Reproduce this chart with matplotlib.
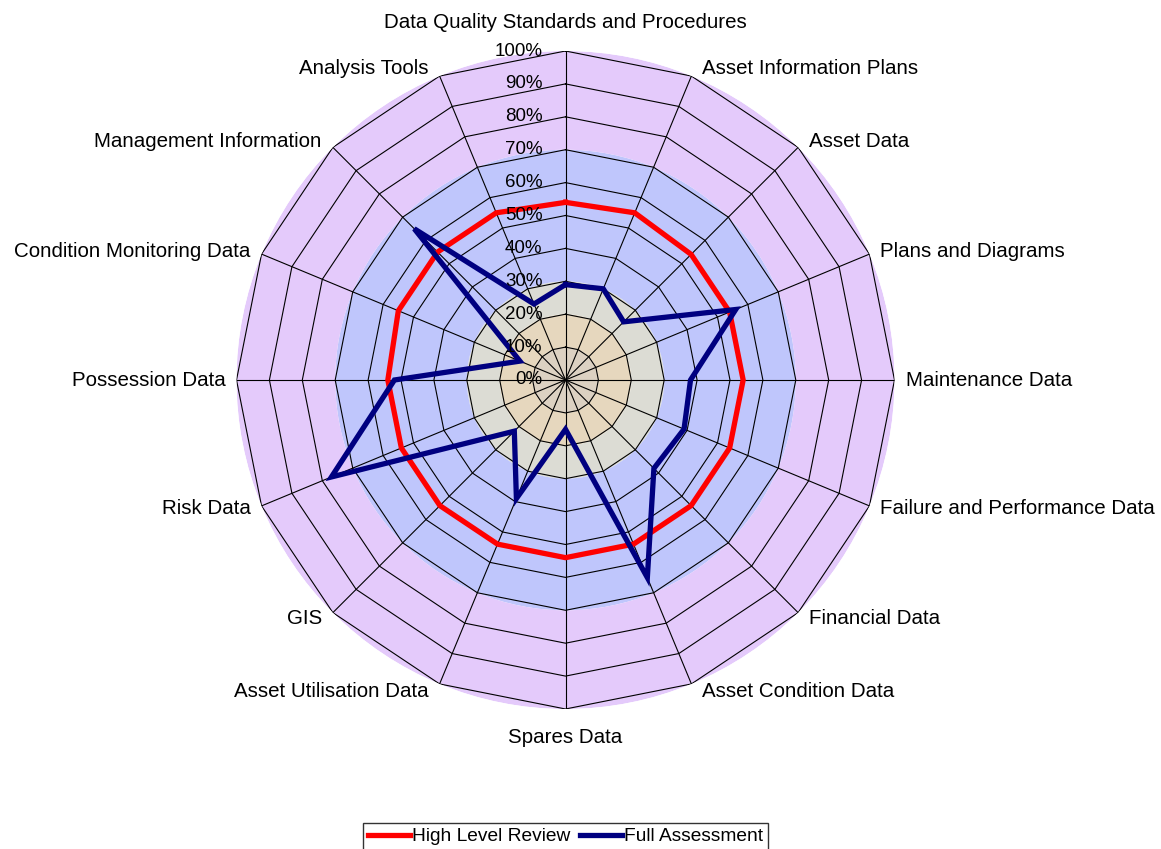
import numpy as np
import matplotlib
matplotlib.use("Agg")
import matplotlib.pyplot as plt
from matplotlib.lines import Line2D

plt.rcParams["font.family"] = ["Liberation Sans", "DejaVu Sans"]

categories = [
    "Data Quality Standards and Procedures",
    "Asset Information Plans",
    "Asset Data",
    "Plans and Diagrams",
    "Maintenance Data",
    "Failure and Performance Data",
    "Financial Data",
    "Asset Condition Data",
    "Spares Data",
    "Asset Utilisation Data",
    "GIS",
    "Risk Data",
    "Possession Data",
    "Condition Monitoring Data",
    "Management Information",
    "Analysis Tools",
]
high_level_review = [54, 55, 54, 54, 54, 54, 54, 54, 54, 54, 54, 54, 54, 55, 55, 55]
full_assessment = [29, 30, 25, 56, 38, 39, 38, 65, 15, 39, 22, 77, 52, 15, 65, 25]
tick_values = [0, 10, 20, 30, 40, 50, 60, 70, 80, 90, 100]

# shaded score bands (inner radius, outer radius, colour)
bands = [
    (0, 10, "#dcd1c2"),
    (10, 20, "#e6d7be"),
    (20, 30, "#dcdcd4"),
    (30, 70, "#bfc6fc"),
    (70, 100, "#e4cafb"),
]

n = len(categories)
theta = np.arange(n) * 2 * np.pi / n
theta_closed = np.append(theta, theta[0])

W, H = 1161, 849
fig = plt.figure(figsize=(W / 100, H / 100), dpi=100)
cx, cy, R = 565.5, 380, 329
ax = fig.add_axes([(cx - R) / W, (H - cy - R) / H, 2 * R / W, 2 * R / H],
                  projection="polar")
ax.set_theta_zero_location("N")
ax.set_theta_direction(-1)
ax.set_ylim(0, 100)
ax.grid(False)
ax.set_xticks([])
ax.set_yticks([])
ax.spines["polar"].set_visible(False)
ax.patch.set_alpha(0)

for r0, r1, col in bands:
    ax.bar(0, r1 - r0, width=2 * np.pi, bottom=r0, color=col,
           edgecolor="none", zorder=0)

# polygon gridlines and spokes
for t in tick_values[1:]:
    ax.plot(theta_closed, [t] * (n + 1), color="black", lw=0.8, zorder=1)
for th in theta:
    ax.plot([th, th], [0, 100], color="black", lw=0.8, zorder=1)

ax.plot(theta_closed, high_level_review + high_level_review[:1],
        color="#ff0000", lw=3.8, zorder=3, solid_joinstyle="miter")
ax.plot(theta_closed, full_assessment + full_assessment[:1],
        color="#000080", lw=3.8, zorder=4, solid_joinstyle="miter")

for t in tick_values:
    ax.annotate(f"{t}%", xy=(0, t), xytext=(-23, 0), textcoords="offset pixels",
                ha="right", va="center", fontsize=13.5, zorder=5)

for th, label in zip(theta, categories):
    s, c = np.sin(th), np.cos(th)
    if abs(s) < 1e-6:
        dx, dy, ha = 0, 29 * np.sign(c), "center"
    else:
        dx = 11 * np.sign(s)
        dy = 8 * c
        ha = "left" if s > 0 else "right"
    ax.annotate(label, xy=(th, 100), xytext=(dx, dy), textcoords="offset pixels",
                ha=ha, va="center", fontsize=14.8, annotation_clip=False)

handles = [Line2D([], [], color="#ff0000", lw=3.8),
           Line2D([], [], color="#000080", lw=3.8)]
fig.legend(handles, ["High Level Review", "Full Assessment"],
           loc="upper center", bbox_to_anchor=(cx / W, 1 - 823 / H), ncol=2,
           fontsize=13.8, frameon=True, fancybox=False, edgecolor="black",
           handlelength=2.2, handletextpad=0.1, columnspacing=0.5,
           borderpad=0.25, borderaxespad=0)

fig.savefig("out.png", dpi=100)
